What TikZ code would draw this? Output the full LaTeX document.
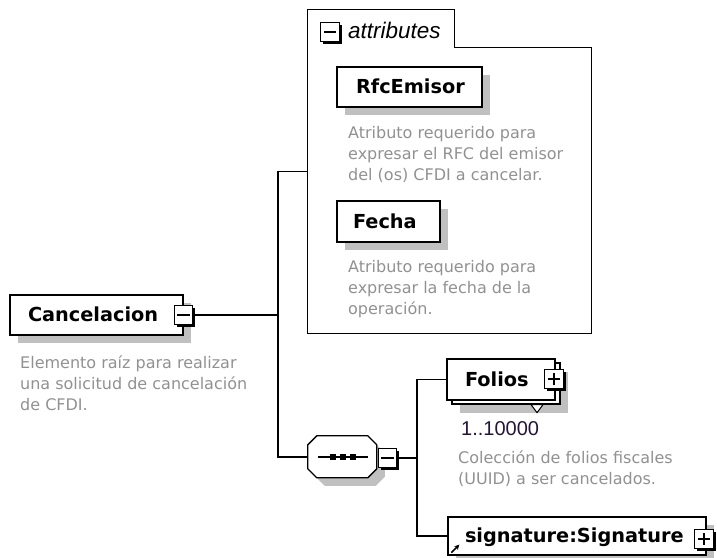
\documentclass[tikz,border=0pt]{standalone}
\usepackage{fontspec}
\setmainfont{DejaVu Sans}
\newfontfamily\arialfont{Liberation Sans}
\usetikzlibrary{shadows,arrows.meta}

\definecolor{descgray}{RGB}{145,145,145}
\definecolor{shadowgray}{RGB}{192,192,192}
\definecolor{occurs}{RGB}{35,20,60}

\newcommand\elemfont{\fontsize{19.3}{23}\selectfont\bfseries}
\newcommand\descfont{\fontsize{16}{21}\selectfont}

\tikzset{
  conn/.style={line width=1.3pt},
  elembase/.style={draw, line width=1.3pt, fill=white, inner ysep=0pt, align=left,
    text height=13pt, text depth=0pt, font=\elemfont},
  elem/.style={elembase, general shadow={fill=shadowgray, shadow xshift=8pt, shadow yshift=-8pt}},
  desc/.style={font=\descfont, text=descgray, align=left, inner sep=0pt, anchor=base west},
  icon/.style={draw, line width=1pt, fill=white, minimum size=18.5pt, inner sep=0pt,
    general shadow={fill=black, shadow xshift=2.5pt, shadow yshift=-2.5pt}},
  iconminus/.style={icon, path picture={
    \draw[line width=1.2pt] ([xshift=3pt]path picture bounding box.west) -- ([xshift=-3pt]path picture bounding box.east);}},
  iconplus/.style={icon, path picture={
    \draw[line width=1.2pt] ([xshift=3pt]path picture bounding box.west) -- ([xshift=-3pt]path picture bounding box.east);
    \draw[line width=1.2pt] ([yshift=-3pt]path picture bounding box.north) -- ([yshift=3pt]path picture bounding box.south);}},
  seqbox/.style={minimum width=69pt, minimum height=42pt, inner sep=0pt}
}

\begin{document}
\begin{tikzpicture}[x=1pt,y=-1pt]
\useasboundingbox (0,0) rectangle (717,557);

% root element
\node[elem, inner xsep=18pt, text width=137pt, minimum height=40pt] (canc) at (96.5,315) {Cancelacion};
\node[iconminus] (canc-ic) at (183.5,315) {};
\node[desc] (canc-doc) at (20,410) {Elemento raíz para realizar\\una solicitud de cancelación\\de CFDI.};

% attributes group
\node[minimum width=283pt, minimum height=323pt, inner sep=0pt] (attrs) at (449.5,171.5) {};
\draw[conn] (attrs.north west) -- ++(147,0) -- ++(0,38) -| (attrs.south east) -- (attrs.south west) -- cycle;
\node[iconminus] (attrs-ic) at (330,32) {};
\node[anchor=base west, inner sep=0pt, font=\arialfont\itshape\fontsize{22.5}{26}\selectfont] (attrs-title) at (348,38) {attributes};

\node[elem, inner xsep=19pt, text width=107pt, minimum height=40pt] (rfc) at (409.5,87) {RfcEmisor};
\node[desc] (rfc-doc) at (348,180) {Atributo requerido para\\expresar el RFC del emisor\\del (os) CFDI a cancelar.};

\node[elem, inner xsep=16pt, text width=71pt, minimum height=41pt] (fecha) at (388.5,221.5) {Fecha};
\node[desc] (fecha-doc) at (348,314) {Atributo requerido para\\expresar la fecha de la\\operación.};

% sequence
\node[seqbox] (seq) at (342.5,457) {};
\fill[shadowgray] (seq.north west) ++(17,8) -- ++(51,0) -- ++(9,9) -- ++(0,24) -- ++(-9,9) -- ++(-51,0) -- ++(-9,-9) -- ++(0,-24) -- cycle;
\filldraw[conn, fill=white] (seq.north west) ++(9,0) -- ++(51,0) -- ++(9,9) -- ++(0,24) -- ++(-9,9) -- ++(-51,0) -- ++(-9,-9) -- ++(0,-24) -- cycle;
\draw[conn] (seq.center) ++(-25,0) -- ++(50,0);
\foreach \dx in {-10,0,10}
  \fill (seq.center) ++(\dx-3,-3) rectangle ++(6,6);
\node[iconminus] (seq-ic) at (387.5,458) {};

% children
\node[elembase, inner xsep=18pt, text width=72pt, minimum height=41pt,
  general shadow={fill=shadowgray, shadow xshift=13pt, shadow yshift=-13pt},
  general shadow={draw, fill=white, line width=1.3pt, shadow xshift=5pt, shadow yshift=-4pt}] (folios) at (501,379.5) {Folios};
\node[iconplus] (folios-ic) at (554,379) {};
\draw[line width=1pt, fill=white] (folios.south) ++(30,4) -- ++(12,0) -- ++(-6,8) -- cycle;
\node[anchor=base west, inner sep=0pt, text=occurs, font=\arialfont\fontsize{20}{24}\selectfont] (folios-occ) at (461,435) {1..10000};
\node[desc] (folios-doc) at (458,484) {Colección de folios fiscales\\(UUID) a ser cancelados.};

\node[elem, inner xsep=17pt, text width=224pt, minimum height=38pt] (sig) at (577,536) {signature:Signature};
\node[iconplus] (sig-ic) at (704,539) {};
\draw[-{Stealth[length=5pt,width=5pt]}, line width=1.6pt] (sig.south west) ++(4,-3) -- ++(8,-8);

% connectors
\coordinate (junc) at (278,315);
\coordinate (seqjunc) at (417,458);
\draw[conn] (canc-ic.east) -- (junc);
\draw[conn] (attrs.west) -| (junc) |- (seq.west);
\draw[conn] (seq-ic.east) -- (seqjunc);
\draw[conn] (folios.west) -| (seqjunc) |- (sig.west);
\end{tikzpicture}
\end{document}
